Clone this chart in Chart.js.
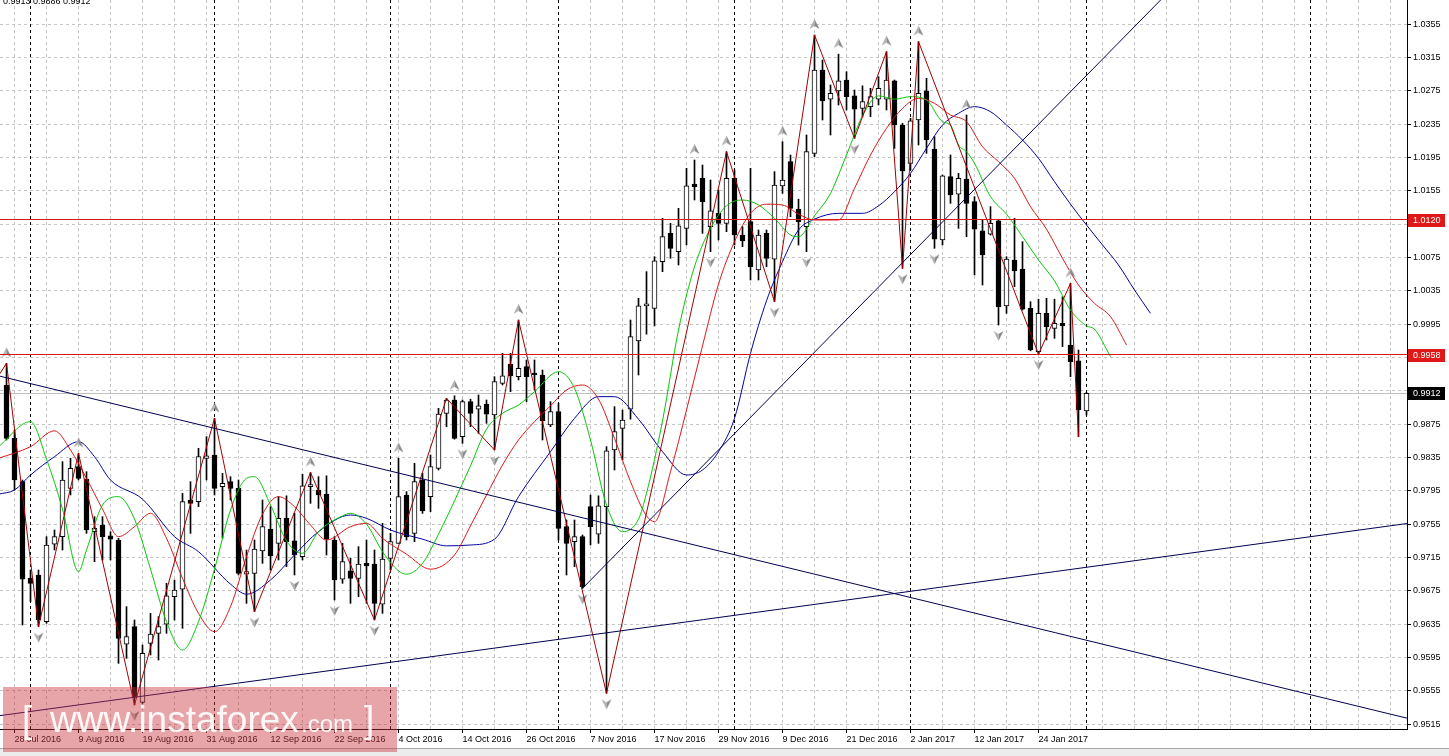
<!DOCTYPE html>
<html>
<head>
<meta charset="utf-8">
<script src="https://cdn.jsdelivr.net/npm/chart.js@4.4.1/dist/chart.umd.min.js"></script>
<style>
  html, body { margin: 0; padding: 0; background: #fff; overflow: hidden; }
  #wrap { width: 1449px; height: 756px; }
</style>
</head>
<body>
<div id="wrap"><canvas id="chart" width="1449" height="756"></canvas></div>
<script>
// daily EURCHF bars, index 0 = 27 Jul 2016
const opens = [0.9922,0.9858,0.9806,0.9690,0.9694,0.9638,0.9731,0.9740,0.9798,0.9824,
  0.9809,0.9746,0.9754,0.9741,0.9736,0.9611,0.9632,0.9541,0.9612,0.9624,
  0.9635,0.9668,0.9677,0.9784,0.9782,0.9834,0.9838,0.9800,0.9806,0.9798,
  0.9695,0.9696,0.9723,0.9749,0.9732,0.9762,0.9735,0.9716,0.9800,0.9796,
  0.9791,0.9736,0.9689,0.9699,0.9690,0.9708,0.9707,0.9659,0.9714,0.9732,
  0.9790,0.9744,0.9808,0.9788,0.9822,0.9888,0.9904,0.9860,0.9902,0.9893,
  0.9899,0.9886,0.9924,0.9947,0.9932,0.9944,0.9935,0.9934,0.9874,0.9890,
  0.9752,0.9734,0.9740,0.9776,0.9743,0.9776,0.9844,0.9870,0.9893,0.9975,
  1.0017,1.0014,1.0070,1.0104,1.0082,1.0110,1.0163,1.0170,1.0112,1.0128,
  1.0116,1.0170,1.0102,1.0118,1.0060,1.0104,1.0073,1.0161,1.0190,1.0133,
  1.0112,1.0200,1.0300,1.0265,1.0275,1.0288,1.0269,1.0254,1.0256,1.0265,
  1.0265,1.0287,1.0234,1.0188,1.0240,1.0275,1.0205,1.0096,1.0172,1.0151,
  1.0169,1.0142,1.0107,1.0103,1.0119,1.0017,1.0072,1.0061,1.0014,0.9962,
  1.0008,0.9990,0.9996,0.9970,0.9951,0.9891];
const highs = [0.9948,0.9868,0.9808,0.9700,0.9700,0.9740,0.9748,0.9830,0.9834,0.9840,
  0.9818,0.9764,0.9764,0.9746,0.9738,0.9656,0.9640,0.9610,0.9648,0.9644,
  0.9684,0.9688,0.9792,0.9806,0.9846,0.9860,0.9882,0.9816,0.9812,0.9808,
  0.9724,0.9736,0.9784,0.9776,0.9788,0.9789,0.9768,0.9815,0.9817,0.9812,
  0.9813,0.9740,0.9732,0.9714,0.9728,0.9736,0.9724,0.9756,0.9744,0.9834,
  0.9794,0.9828,0.9816,0.9838,0.9894,0.9906,0.9909,0.9904,0.9905,0.9910,
  0.9904,0.9932,0.9960,0.9960,1.0000,0.9952,0.9952,0.9940,0.9902,0.9900,
  0.9760,0.9760,0.9742,0.9790,0.9789,0.9848,0.9896,0.9892,1.0000,1.0026,
  1.0058,1.0076,1.0122,1.0116,1.0134,1.0182,1.0192,1.0186,1.0168,1.0156,
  1.0202,1.0180,1.0112,1.0182,1.0108,1.0108,1.0178,1.0214,1.0198,1.0145,
  1.0222,1.0342,1.0312,1.0282,1.0319,1.0298,1.0276,1.0281,1.0278,1.0292,
  1.0322,1.0288,1.0236,1.0242,1.0334,1.0290,1.0220,1.0174,1.0198,1.0176,
  1.0246,1.0148,1.0120,1.0136,1.0120,1.0076,1.0122,1.0094,1.0022,1.0025,
  1.0026,1.0025,1.0028,1.0044,0.9964,0.9913];
const lows = [0.9856,0.9796,0.9634,0.9662,0.9632,0.9636,0.9724,0.9724,0.9790,0.9808,
  0.9744,0.9710,0.9712,0.9712,0.9588,0.9594,0.9538,0.9540,0.9598,0.9592,
  0.9624,0.9640,0.9630,0.9744,0.9776,0.9808,0.9790,0.9738,0.9784,0.9694,
  0.9660,0.9650,0.9708,0.9700,0.9712,0.9704,0.9694,0.9712,0.9780,0.9774,
  0.9718,0.9664,0.9684,0.9660,0.9668,0.9660,0.9640,0.9648,0.9700,0.9732,
  0.9736,0.9734,0.9768,0.9770,0.9820,0.9872,0.9857,0.9852,0.9872,0.9864,
  0.9876,0.9844,0.9922,0.9914,0.9928,0.9902,0.9916,0.9856,0.9872,0.9736,
  0.9694,0.9704,0.9678,0.9730,0.9732,0.9552,0.9820,0.9832,0.9881,0.9934,
  0.9983,0.9993,1.0058,1.0074,1.0066,1.0090,1.0144,1.0104,1.0082,1.0096,
  1.0106,1.0090,1.0088,1.0048,1.0048,1.0064,1.0022,1.0152,1.0124,1.0090,
  1.0082,1.0196,1.0240,1.0222,1.0258,1.0252,1.0218,1.0244,1.0244,1.0258,
  1.0252,1.0206,1.0062,1.0180,1.0210,1.0200,1.0086,1.0090,1.0140,1.0110,
  1.0100,1.0054,1.0042,1.0102,0.9994,1.0008,1.0040,1.0012,0.9963,0.9959,
  0.9976,0.9978,0.9968,0.9932,0.9860,0.9886];
const closes = [0.9858,0.9808,0.9689,0.9684,0.9640,0.9730,0.9740,0.9808,0.9822,0.9810,
  0.9748,0.9750,0.9740,0.9737,0.9618,0.9620,0.9548,0.9600,0.9623,0.9632,
  0.9669,0.9676,0.9782,0.9780,0.9836,0.9837,0.9798,0.9804,0.9798,0.9696,
  0.9698,0.9725,0.9752,0.9717,0.9762,0.9734,0.9718,0.9801,0.9801,0.9790,
  0.9737,0.9688,0.9710,0.9690,0.9707,0.9705,0.9660,0.9713,0.9734,0.9788,
  0.9740,0.9806,0.9771,0.9824,0.9887,0.9904,0.9858,0.9902,0.9888,0.9897,
  0.9887,0.9926,0.9933,0.9933,0.9942,0.9932,0.9934,0.9879,0.9890,0.9750,
  0.9732,0.9740,0.9680,0.9752,0.9777,0.9843,0.9866,0.9880,0.9980,1.0017,
  1.0019,1.0071,1.0100,1.0086,1.0113,1.0161,1.0160,1.0142,1.0131,1.0116,
  1.0170,1.0102,1.0095,1.0064,1.0102,1.0074,1.0162,1.0168,1.0134,1.0118,
  1.0202,1.0300,1.0263,1.0272,1.0287,1.0268,1.0253,1.0262,1.0268,1.0278,
  1.0288,1.0234,1.0179,1.0239,1.0272,1.0216,1.0097,1.0173,1.0150,1.0170,
  1.0140,1.0109,1.0078,1.0116,1.0016,1.0073,1.0059,1.0013,0.9964,1.0008,
  0.9992,0.9996,0.9993,0.9950,0.9892,0.9912];

// alligator lines (shifted forward like the original)
const lipsBars = [-1,3,5,7,9,10,12,14,16,18,20,22,24,26,28,30,31,33,35,37,39,42,43,45,47,49,50,52,54,56,58,60,62,64,66,69,71,73,75,77,79,80,82,84,86,88,90,92,94,96,98,99,101,103,105,107,109,111,113,115,117,118,119,120,121,123,125,127,129,131,133,135,136,138];
const lipsVals = [0.9848,0.9878,0.9833,0.9773,0.9698,0.9724,0.9778,0.9788,0.9761,0.9701,0.9638,0.9604,0.9638,0.9701,0.9772,0.9810,0.9812,0.9778,0.9735,0.9720,0.9746,0.9765,0.9768,0.9755,0.9722,0.9699,0.9695,0.9708,0.9743,0.9783,0.9825,0.9869,0.9888,0.9898,0.9914,0.9938,0.9918,0.9856,0.9778,0.9746,0.9761,0.9792,0.9879,0.9988,1.0064,1.0110,1.0137,1.0144,1.0138,1.0122,1.0102,1.0100,1.0125,1.0152,1.0198,1.0245,1.0269,1.0265,1.0268,1.0264,1.0238,1.0234,1.0210,1.0202,1.0188,1.0148,1.0127,1.0100,1.0072,1.0047,1.0012,0.9993,0.9989,0.9956];
const teethBars = [-1,3,6,8,10,12,14,16,18,20,22,24,26,28,30,32,34,36,38,40,43,45,47,50,53,56,58,60,62,64,66,68,70,72,74,76,78,80,81,83,85,87,89,91,93,95,97,99,101,104,106,108,110,112,114,116,118,120,122,124,126,128,130,132,134,136,138,140];
const teethVals = [0.9834,0.9848,0.9867,0.9844,0.9810,0.9773,0.9740,0.9752,0.9768,0.9738,0.9690,0.9648,0.9626,0.9656,0.9716,0.9767,0.9788,0.9776,0.9754,0.9736,0.9752,0.9756,0.9738,0.9719,0.9701,0.9718,0.9753,0.9790,0.9826,0.9856,0.9878,0.9897,0.9916,0.9922,0.9905,0.9858,0.9806,0.9765,0.9758,0.9818,0.9892,0.9969,1.0043,1.0094,1.0128,1.0139,1.0138,1.0127,1.0120,1.0120,1.0158,1.0198,1.0230,1.0254,1.0266,1.0260,1.0246,1.0238,1.0208,1.0190,1.0170,1.0136,1.0109,1.0074,1.0042,1.0020,1.0004,0.9970];
const jawBars = [-1,1,3,6,9,11,13,17,21,24,28,30,33,36,39,43,45,48,52,55,58,61,64,68,71,74,76,79,82,85,87,89,91,93,95,97,99,101,104,107,109,111,113,115,117,119,121,123,125,127,129,131,133,135,137,139,141,143];
const jawVals = [0.9791,0.9796,0.9814,0.9836,0.9854,0.9836,0.9808,0.9785,0.9740,0.9722,0.9683,0.9671,0.9688,0.9718,0.9746,0.9766,0.9762,0.9748,0.9737,0.9729,0.9730,0.9737,0.9788,0.9842,0.9882,0.9908,0.9908,0.9881,0.9842,0.9814,0.9820,0.9842,0.9882,0.9960,1.0023,1.0070,1.0108,1.0121,1.0128,1.0128,1.0137,1.0154,1.0176,1.0206,1.0234,1.0248,1.0256,1.0250,1.0234,1.0216,1.0194,1.0166,1.0139,1.0114,1.0090,1.0066,1.0036,1.0008];

// zigzag and fractals
const zigzagBars = [-1,0,4,9,16,26,31,38,46,55,61,64,75,90,96,101,106,110,112,114,129,133,134];
const zigzagVals = [0.9933,0.9948,0.9632,0.9840,0.9538,0.9882,0.9650,0.9817,0.9640,0.9906,0.9844,1.0000,0.9552,1.0202,1.0022,1.0342,1.0218,1.0322,1.0062,1.0334,0.9959,1.0044,0.9860];
const fractalUpBars = [0,9,26,38,49,56,64,86,90,97,101,104,110,114,120,133];
const fractalDownBars = [4,16,31,36,41,46,57,61,72,75,88,96,100,106,112,116,124,129];

// drawn objects
const trendA = { bars: [-1, 176], vals: [0.9933, 0.9520] };
const trendB = { bars: [-1, 176], vals: [0.9525, 0.9757] };
const trendC = { bars: [72, 150], vals: [0.9678, 1.0440] };
const levels = [1.0120, 0.9958];
const lastPrice = 0.9912;
const headerText = '0.9913 0.9886 0.9912';
const separatorBars = [3, 26, 48, 69, 91, 113, 135, 163];

// axes
const xLabelBars = [1,9,17,25,33,41,49,57,65,73,81,89,97,105,113,121,129];
const xLabels = ['28 Jul 2016','9 Aug 2016','19 Aug 2016','31 Aug 2016','12 Sep 2016','22 Sep 2016',
  '4 Oct 2016','14 Oct 2016','26 Oct 2016','7 Nov 2016','17 Nov 2016','29 Nov 2016','9 Dec 2016',
  '21 Dec 2016','2 Jan 2017','12 Jan 2017','24 Jan 2017'];
const yTicks = ['0.9515','0.9555','0.9595','0.9635','0.9675','0.9715','0.9755','0.9795','0.9835','0.9875',
  '0.9915','0.9955','0.9995','1.0035','1.0075','1.0115','1.0155','1.0195','1.0235','1.0275','1.0315','1.0355'];

const FONT = '"Liberation Sans", Arial, sans-serif';

function pts(bars, vals) {
  return bars.map((b, i) => ({ x: b, y: vals[i] }));
}

function makeArrow(up) {
  const c = document.createElement('canvas');
  c.width = 11; c.height = 42;
  const g = c.getContext('2d');
  const cy = up ? 10 : 32;
  const d = up ? 1 : -1;
  g.beginPath();
  g.moveTo(5.5, cy - 5 * d); g.lineTo(5.5, cy + 2 * d); g.lineTo(0.5, cy + 5 * d); g.closePath();
  g.fillStyle = '#b4b4b4'; g.fill();
  g.beginPath();
  g.moveTo(5.5, cy - 5 * d); g.lineTo(5.5, cy + 2 * d); g.lineTo(10.5, cy + 5 * d); g.closePath();
  g.fillStyle = '#8a8a8a'; g.fill();
  return c;
}

const mt4 = {
  id: 'mt4',
  beforeDatasetsDraw(chart) {
    const { ctx, chartArea: a, scales: { x, y } } = chart;
    const vline = (px) => { ctx.beginPath(); ctx.moveTo(px, a.top); ctx.lineTo(px, a.bottom); ctx.stroke(); };
    const hline = (py) => { ctx.beginPath(); ctx.moveTo(a.left, py); ctx.lineTo(a.right, py); ctx.stroke(); };
    ctx.save();
    ctx.beginPath(); ctx.rect(a.left, a.top, a.right - a.left, a.bottom - a.top); ctx.clip();
    ctx.lineWidth = 1;
    ctx.strokeStyle = '#c4c4c4';
    ctx.setLineDash([3, 3]);
    yTicks.forEach(t => hline(Math.floor(y.getPixelForValue(parseFloat(t))) + 0.5));
    for (let b = 1; b < x.max; b += 4) vline(Math.floor(x.getPixelForValue(b)) + 0.5);
    ctx.setLineDash([]);
    ctx.strokeStyle = '#c0c0c0';
    hline(Math.floor(y.getPixelForValue(lastPrice)) + 0.5);
    ctx.strokeStyle = '#000';
    ctx.setLineDash([3, 3]);
    separatorBars.forEach(b => vline(Math.floor(x.getPixelForValue(b)) + 0.5));
    ctx.restore();
  },
  afterDatasetsDraw(chart) {
    const { ctx, chartArea: a, scales: { y } } = chart;
    ctx.save();
    ctx.strokeStyle = '#d81818';
    ctx.lineWidth = 1;
    levels.forEach(v => {
      const py = Math.floor(y.getPixelForValue(v)) + 0.5;
      ctx.beginPath(); ctx.moveTo(a.left, py); ctx.lineTo(a.right, py); ctx.stroke();
    });
    ctx.restore();
  },
  afterDraw(chart) {
    const { ctx, chartArea: a, scales: { y } } = chart;
    ctx.save();
    // price tags on the axis
    ctx.font = '9px ' + FONT;
    ctx.textBaseline = 'middle';
    const tag = (v, bg) => {
      const py = Math.round(y.getPixelForValue(v));
      ctx.fillStyle = bg;
      ctx.fillRect(a.right + 1, py - 6, 37, 13);
      ctx.fillStyle = '#fff';
      ctx.fillText(v.toFixed(4), a.right + 6, py + 0.5);
    };
    levels.forEach(v => tag(v, '#e01818'));
    tag(lastPrice, '#000');

    // header
    ctx.fillStyle = '#000';
    ctx.textBaseline = 'alphabetic';
    ctx.fillText(headerText, 3, 4);

    // bottom strip
    ctx.fillStyle = '#ececec';
    ctx.fillRect(0, 748, chart.width, 8);
    ctx.fillStyle = '#a8a8a8';
    ctx.fillRect(0, 748, chart.width, 1);

    // watermark
    ctx.fillStyle = 'rgba(205, 55, 65, 0.45)';
    ctx.fillRect(3, 687, 394, 65);
    ctx.fillStyle = 'rgba(255, 255, 255, 0.92)';
    ctx.font = '37px ' + FONT;
    ctx.fillText('[', 22, 732);
    ctx.fillText('www.instaforex', 50, 732);
    ctx.fillText(']', 364, 732);
    ctx.font = '24px ' + FONT;
    ctx.fillText('.com', 301, 732);
    ctx.restore();
  }
};

const ctx = document.getElementById('chart').getContext('2d');
const upArrow = makeArrow(true);
const downArrow = makeArrow(false);

new Chart(ctx, {
  type: 'bar',
  data: {
    datasets: [
      { type: 'line', data: pts(trendA.bars, trendA.vals), borderColor: '#000050', borderWidth: 1, pointRadius: 0, tension: 0, order: 0 },
      { type: 'line', data: pts(trendB.bars, trendB.vals), borderColor: '#000050', borderWidth: 1, pointRadius: 0, tension: 0, order: 0 },
      { type: 'line', data: pts(trendC.bars, trendC.vals), borderColor: '#000050', borderWidth: 1, pointRadius: 0, tension: 0, order: 0 },
      { type: 'line', data: pts(zigzagBars, zigzagVals), borderColor: '#a00000', borderWidth: 1, pointRadius: 0, tension: 0, order: 1 },
      { type: 'line', data: fractalUpBars.map(b => ({ x: b, y: highs[b] })), showLine: false, pointStyle: upArrow, pointRadius: 5, order: 1 },
      { type: 'line', data: fractalDownBars.map(b => ({ x: b, y: lows[b] })), showLine: false, pointStyle: downArrow, pointRadius: 5, order: 1 },
      { type: 'line', data: pts(lipsBars, lipsVals), borderColor: '#00c800', borderWidth: 1, pointRadius: 0, cubicInterpolationMode: 'monotone', order: 2 },
      { type: 'line', data: pts(teethBars, teethVals), borderColor: '#e01414', borderWidth: 1, pointRadius: 0, cubicInterpolationMode: 'monotone', order: 2 },
      { type: 'line', data: pts(jawBars, jawVals), borderColor: '#0000a0', borderWidth: 1, pointRadius: 0, cubicInterpolationMode: 'monotone', order: 2 },
      {
        label: 'bodies',
        data: opens.map((o, i) => ({ x: i, y: [o, closes[i]] })),
        backgroundColor: opens.map((o, i) => closes[i] > o ? '#ffffff' : '#000000'),
        borderColor: '#000', borderWidth: 1, borderSkipped: false,
        barThickness: 5, minBarLength: 2, grouped: false, order: 3
      },
      {
        label: 'wicks',
        data: lows.map((l, i) => ({ x: i, y: [l, highs[i]] })),
        backgroundColor: '#000', borderWidth: 0,
        barThickness: 1, grouped: false, order: 4
      }
    ]
  },
  options: {
    responsive: false,
    animation: false,
    devicePixelRatio: 1,
    events: [],
    layout: { padding: 0, autoPadding: false },
    plugins: { legend: { display: false }, tooltip: { enabled: false } },
    scales: {
      x: {
        type: 'linear', position: 'bottom',
        min: -0.8125, max: 175.0625, bounds: 'data', offset: false,
        grid: { drawOnChartArea: false, drawTicks: true, tickLength: 4, tickColor: '#000', offset: false },
        border: { display: true, color: '#000', width: 1 },
        ticks: {
          autoSkip: false, maxRotation: 0, minRotation: 0, align: 'start', padding: 1,
          color: '#000', font: { family: FONT, size: 9 },
          callback: (v) => xLabels[xLabelBars.indexOf(v)]
        },
        afterBuildTicks: s => { s.ticks = xLabelBars.map(v => ({ value: v })); },
        afterFit: s => { s.height = 27; s.paddingLeft = 0; s.paddingRight = 0; }
      },
      y: {
        type: 'linear', position: 'right',
        min: 0.95092, max: 1.0384, bounds: 'data', beginAtZero: false,
        grid: { drawOnChartArea: false, drawTicks: true, tickLength: 4, tickColor: '#000' },
        border: { display: true, color: '#000', width: 1 },
        ticks: { padding: 2, color: '#000', font: { family: FONT, size: 9 }, callback: (v) => v.toFixed(4) },
        afterBuildTicks: s => { s.ticks = yTicks.map(t => ({ value: parseFloat(t) })); },
        afterFit: s => { s.width = 42; s.paddingTop = 0; s.paddingBottom = 0; }
      }
    }
  },
  plugins: [mt4]
});
</script>
</body>
</html>
